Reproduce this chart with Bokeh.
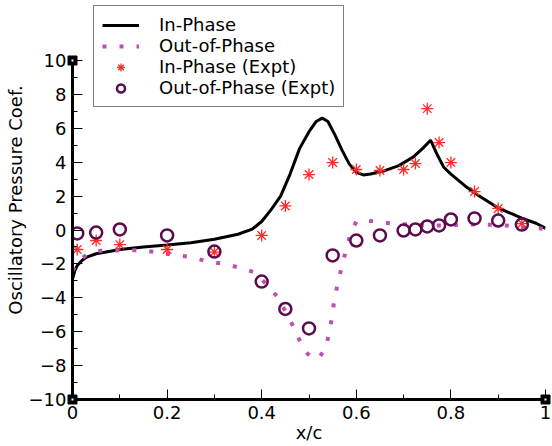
from bokeh.plotting import figure
from bokeh.models import Range1d, FixedTicker, Legend, LegendItem
from bokeh.embed import file_html
from bokeh.resources import INLINE

# Computed in-phase pressure coefficient along the chord
inphase_x = [0.0, 0.005, 0.01, 0.02, 0.03, 0.05, 0.08, 0.1, 0.15, 0.2, 0.25, 0.3,
             0.35, 0.38, 0.4, 0.42, 0.44, 0.46, 0.48, 0.5, 0.515, 0.528, 0.54, 0.555,
             0.57, 0.585, 0.6, 0.615, 0.63, 0.66, 0.69, 0.72, 0.74, 0.757, 0.77,
             0.785, 0.8, 0.83, 0.86, 0.9, 0.95, 0.98, 1.0]
inphase_y = [-2.9, -2.4, -2.1, -1.8, -1.6, -1.4, -1.25, -1.15, -1.0, -0.88, -0.75, -0.55,
             -0.25, 0.05, 0.5, 1.2, 2.0, 3.3, 4.8, 5.8, 6.4, 6.6, 6.4, 5.6,
             4.7, 3.9, 3.4, 3.25, 3.3, 3.5, 3.8, 4.3, 4.8, 5.3, 4.5,
             3.7, 3.3, 2.6, 2.0, 1.3, 0.7, 0.4, 0.1]

# Computed out-of-phase pressure coefficient
outphase_x = [0.0, 0.01, 0.03, 0.06, 0.1, 0.14, 0.18, 0.21, 0.25, 0.285, 0.32, 0.35,
              0.385, 0.41, 0.435, 0.465, 0.48, 0.497, 0.51, 0.522, 0.535, 0.545,
              0.55, 0.555, 0.562, 0.57, 0.578, 0.587, 0.6, 0.62, 0.64, 0.67, 0.71,
              0.75, 0.79, 0.83, 0.875, 0.915, 0.95, 0.99, 1.0]
outphase_y = [-2.4, -1.9, -1.45, -1.22, -1.2, -1.2, -1.3, -1.45, -1.6, -1.85, -2.0, -2.2,
              -2.5, -3.2, -4.0, -5.6, -6.5, -7.3, -7.6, -7.5, -7.0, -5.8,
              -4.8, -3.9, -3.0, -2.1, -1.2, -0.3, 0.5, 0.55, 0.5, 0.4, 0.32,
              0.27, 0.27, 0.32, 0.32, 0.27, 0.15, 0.09, 0.05]

# Experimental measurement stations and values
expt_x = [0.01, 0.05, 0.1, 0.2, 0.3, 0.4, 0.45, 0.5, 0.55, 0.6, 0.65, 0.7, 0.725,
          0.75, 0.775, 0.8, 0.85, 0.9, 0.95]
expt_inphase = [-1.15, -0.62, -0.86, -1.15, -1.3, -0.32, 1.42, 3.27, 3.98, 3.57, 3.51,
                3.57, 3.92, 7.16, 5.16, 3.98, 2.27, 1.27, 0.38]
expt_outphase = [-0.2, -0.15, 0.03, -0.32, -1.27, -3.04, -4.66, -5.81, -1.5, -0.62,
                 -0.32, -0.03, 0.03, 0.21, 0.27, 0.62, 0.68, 0.56, 0.32]

x_ticks = [0, 0.2, 0.4, 0.6, 0.8, 1]
x_tick_labels = {0: "0", 0.2: "0.2", 0.4: "0.4", 0.6: "0.6", 0.8: "0.8", 1: "1"}
y_ticks = [-10, -8, -6, -4, -2, 0, 2, 4, 6, 8, 10]

X_MIN, X_MAX = 0.0, 1.0
Y_MIN, Y_MAX = -10.0, 10.0

FONT = "DejaVu Sans"
FS = "18px"

p = figure(width=552, height=446, output_backend="svg", toolbar_location=None,
           x_range=Range1d(X_MIN, X_MAX), y_range=Range1d(Y_MIN, 13.54),
           min_border_left=72, min_border_right=7, min_border_top=0,
           min_border_bottom=47, outline_line_color=None,
           background_fill_color="white", border_fill_color="white")
p.grid.visible = False

for ax in (p.xaxis[0], p.yaxis[0]):
    ax.axis_line_width = 3
    ax.axis_line_color = "black"
    ax.major_tick_in = 10
    ax.major_tick_out = 0
    ax.minor_tick_in = 5
    ax.minor_tick_out = 0
    ax.major_tick_line_width = 1
    ax.minor_tick_line_width = 1
    ax.major_label_text_font = FONT
    ax.major_label_text_font_size = FS
    ax.major_label_text_color = "black"
    ax.axis_label_text_font = FONT
    ax.axis_label_text_font_size = FS
    ax.axis_label_text_font_style = "normal"
    ax.axis_label_text_color = "black"

p.xaxis.ticker = FixedTicker(ticks=x_ticks, minor_ticks=[0.1, 0.3, 0.5, 0.7, 0.9])
p.xaxis.major_label_overrides = x_tick_labels
p.xaxis.bounds = (X_MIN, X_MAX)
p.xaxis.axis_label = "x/c"
p.xaxis.major_label_standoff = 6
p.xaxis.axis_label_standoff = 0

p.yaxis.ticker = FixedTicker(ticks=y_ticks, minor_ticks=list(range(-9, 10, 2)))
p.yaxis.bounds = (Y_MIN, Y_MAX)
p.yaxis.axis_label = "Oscillatory Pressure Coef."
p.yaxis.major_label_standoff = 6
p.yaxis.axis_label_standoff = 0

r_in = p.line(inphase_x, inphase_y, line_color="black", line_width=3)
r_out = p.line(outphase_x, outphase_y, line_color="#c050b0", line_width=4,
               line_dash="4 13", line_cap="butt")
r_in_e = p.scatter(expt_x, expt_inphase, marker="asterisk", size=12,
                   line_color="#ff2a2a", line_width=1.3)
r_out_e = p.scatter(expt_x, expt_outphase, marker="circle", size=12,
                    line_color="#5a0c4e", line_width=2.5, fill_color=None)

# Node markers at the axis corners
corner_x = [X_MIN, X_MIN, X_MAX]
corner_y = [Y_MAX, Y_MIN, Y_MIN]
p.scatter(corner_x, corner_y, marker="square", size=9, fill_color="black",
          line_color="black", level="overlay")
p.scatter(corner_x, corner_y, marker="square", size=2, fill_color="white",
          line_color=None, level="overlay")

legend = Legend(items=[
    LegendItem(label="In-Phase", renderers=[r_in]),
    LegendItem(label="Out-of-Phase", renderers=[r_out]),
    LegendItem(label="In-Phase (Expt)", renderers=[r_in_e]),
    LegendItem(label="Out-of-Phase (Expt)", renderers=[r_out_e]),
], location=(21, 292), orientation="vertical")
legend.label_text_font = FONT
legend.label_text_font_size = FS
legend.label_text_color = "black"
legend.border_line_color = "black"
legend.border_line_width = 1
legend.background_fill_color = "white"
legend.background_fill_alpha = 1
legend.padding = 8
legend.margin = 0
legend.spacing = 0
legend.glyph_width = 37
legend.glyph_height = 20
legend.label_height = 20
legend.label_standoff = 20
p.add_layout(legend)

open("out.html", "w").write(file_html(p, INLINE))
